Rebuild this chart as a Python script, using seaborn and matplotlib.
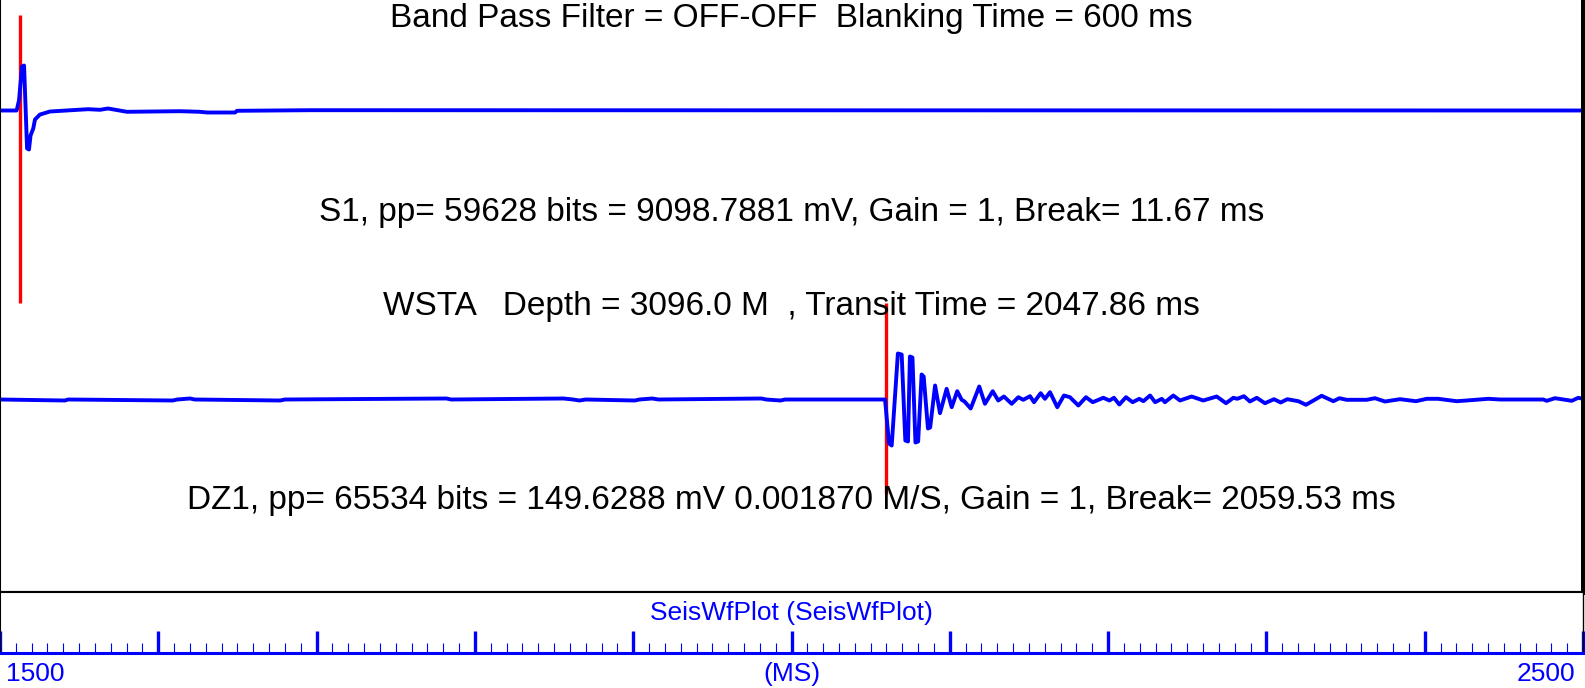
import pandas as pd
import numpy as np
import matplotlib.pyplot as plt
import seaborn as sns

# Datos de las trazas (tiempo en ms, amplitud relativa)
s1_tiempo = [1500, 1510.5, 1512.0, 1513.9, 1515.2, 1517.1, 1518.3, 1519.3, 1521.0,
             1522.1, 1524.0, 1525.3, 1531.6, 1555.6, 1563.2, 1568.2, 1580.2, 1613.7,
             1626.3, 1630.8, 1648.5, 1649.7, 1695.8, 2500]
s1_amp = [0, 0, 10, 44, 45, -38, -39, -25, -18,
          -9, -6, -4, -1, 1.3, 0.7, 2, -1.3, -0.7,
          -1.3, -2, -2, -0.3, 0.3, 0]

dz1_tiempo = [1500, 1541, 1543, 1609, 1612, 1620, 1623, 1677, 1680, 1782, 1785,
              1856, 1862, 1866, 1870, 1901, 1904, 1912, 1916, 1981, 1984, 1993, 1996,
              2059.1, 2061.6, 2063.3, 2067.2, 2069.6, 2071.9, 2073.6, 2074.8, 2076.4,
              2078.3, 2080.0, 2082.2, 2083.5, 2086.2, 2087.6, 2090.7,
              2093.8, 2098.0, 2101.2, 2104.7, 2107.5, 2109.3, 2113.2, 2118.6, 2122.2,
              2127.1, 2130.6, 2134.2, 2139.1, 2143.3, 2146.4, 2150.7, 2153.2, 2157.4,
              2160.1, 2163.3, 2167.9, 2172.1, 2175.9, 2181.2, 2186.0, 2190.3, 2197.0,
              2200.8, 2203.7, 2207.1, 2211.3, 2215.5, 2219.7, 2222.3, 2226.5, 2229.7,
              2233.9, 2235.9, 2241.2, 2245.4, 2252.8, 2260.1, 2268.6, 2274.5, 2279.1,
              2281.6, 2285.8, 2289.6, 2293.9, 2299.1, 2304.8, 2309.0, 2313.2, 2320.2,
              2325.0, 2334.9, 2342.3, 2346.1, 2350.7, 2363.3, 2368.6, 2374.9, 2384.4,
              2394.5, 2401.3, 2408.4, 2420.2, 2426.5, 2440.2, 2447.6, 2474.9, 2477.1,
              2482.3, 2492.9, 2497.0, 2500]
dz1_amp = [0, -1, 0, -1, 0, 1, 0, -1, 0, 1, 0,
           1, 0, -1, 0, -1, 0, 1, 0, 1, 0, -1, 0,
           0, -44, -46, 46, 45, -41, -42, 43, 42,
           -43, -42, 25, 23, -29, -28, 14,
           -13.7, 10.7, -7.7, 8.3, -0.3, -2, -9, 13, -4.3,
           8.3, -1, 3, -4.3, 2.3, -0.3, 3.3, -2.7, 6.3,
           0.7, 7.3, -7.7, 4, 2.3, -6, 2.3, -2.7, 1.7,
           -1, 1.7, -5, 2.3, -2.7, 0.7, -1.7, 4, -2.7,
           0.7, -2.7, 4, -1, 3, -1, 3, -3.7, 1.7,
           0.7, 3.3, -2, 1.7, -3.7, 0.3, -3, 0.3, -1.7,
           -5.3, 3.7, -1.7, 1.3, -0.3, -0.3, 1.3, -2, 0.3,
           -1.7, 0.7, 0.7, -1.7, -1, 0.7, 0, 0, -1.3,
           1.3, -1.3, 1.7, 0.7]

# Marcas de primera llegada (ms)
s1_break = 1512.6
dz1_break = 2059.6

titulo = 'Band Pass Filter = OFF-OFF  Blanking Time = 600 ms'
texto_s1 = 'S1, pp= 59628 bits = 9098.7881 mV, Gain = 1, Break= 11.67 ms'
texto_wsta = 'WSTA   Depth = 3096.0 M  , Transit Time = 2047.86 ms'
texto_dz1 = 'DZ1, pp= 65534 bits = 149.6288 mV 0.001870 M/S, Gain = 1, Break= 2059.53 ms'

# Posiciones verticales (filas de la ventana)
base_s1 = 110.5
base_dz1 = 399.5

df_s1 = pd.DataFrame({'t': s1_tiempo, 'y': base_s1 - np.array(s1_amp)})
df_dz1 = pd.DataFrame({'t': dz1_tiempo, 'y': base_dz1 - np.array(dz1_amp)})

sns.set_style('white')
plt.rcParams['font.family'] = ['Liberation Sans', 'DejaVu Sans']

W, H = 1585, 688
fig = plt.figure(figsize=(W / 100, H / 100), dpi=100)

ax = fig.add_axes([0, (H - 592) / H, 1583 / W, 592 / H])
sns.lineplot(x='t', y='y', data=df_s1, ax=ax, color='blue', lw=2.8,
             estimator=None, sort=False)
sns.lineplot(x='t', y='y', data=df_dz1, ax=ax, color='blue', lw=2.8,
             estimator=None, sort=False)
for l in ax.get_lines():
    l.set_solid_joinstyle('round')
ax.vlines(s1_break, 15, 303, color='red', lw=2.4, zorder=1)
ax.vlines(dz1_break, 303, 494, color='red', lw=2.4, zorder=1)
ax.set_xlim(1500, 2500)
ax.set_ylim(592, 0)
ax.set_xticks([])
ax.set_yticks([])
ax.set_xlabel('')
ax.set_ylabel('')
ax.spines['top'].set_visible(False)
ax.spines['left'].set_color('black')
ax.spines['left'].set_linewidth(1.5)
ax.spines['right'].set_color('black')
ax.spines['right'].set_linewidth(3.6)
ax.spines['bottom'].set_color('black')
ax.spines['bottom'].set_linewidth(1.5)

cx = 791.5 / W
fs = 24
for txt, yy in [(titulo, 19), (texto_s1, 213), (texto_wsta, 306.5), (texto_dz1, 500.5)]:
    fig.text(cx, 1 - yy / H, txt, ha='center', va='center', fontsize=fs, color='black')

# Regla inferior de tiempo
ax2 = fig.add_axes([0, (H - 653) / H, 1583 / W, 61 / H])
ax2.set_xlim(1500, 2500)
ax2.set_ylim(0, 1)
ax2.set_yticks([])
ax2.set_xticks(np.arange(1500, 2501, 100))
ax2.set_xticks(np.arange(1500, 2501, 10), minor=True)
ax2.tick_params(axis='x', which='major', direction='in', length=16, width=2.4,
                color='blue', labelbottom=False, bottom=True)
ax2.tick_params(axis='x', which='minor', direction='in', length=7.5, width=0.8,
                color='blue', bottom=True)
ax2.spines['bottom'].set_color('blue')
ax2.spines['bottom'].set_linewidth(2.2)
ax2.spines['top'].set_color('black')
ax2.spines['top'].set_linewidth(1.5)
ax2.spines['left'].set_color('black')
ax2.spines['left'].set_linewidth(1.5)
ax2.spines['right'].set_color('black')
ax2.spines['right'].set_linewidth(1)

fs2 = 19
fig.text(cx, 1 - 613 / H, 'SeisWfPlot (SeisWfPlot)', ha='center', va='center',
         fontsize=fs2, color='blue')
fig.text(6 / W, 1 - 674 / H, '1500', ha='left', va='center', fontsize=fs2, color='blue')
fig.text(1575 / W, 1 - 674 / H, '2500', ha='right', va='center', fontsize=fs2, color='blue')
fig.text(cx, 1 - 674 / H, '(MS)', ha='center', va='center', fontsize=fs2, color='blue')

fig.savefig('out.png', dpi=100, facecolor='white')
